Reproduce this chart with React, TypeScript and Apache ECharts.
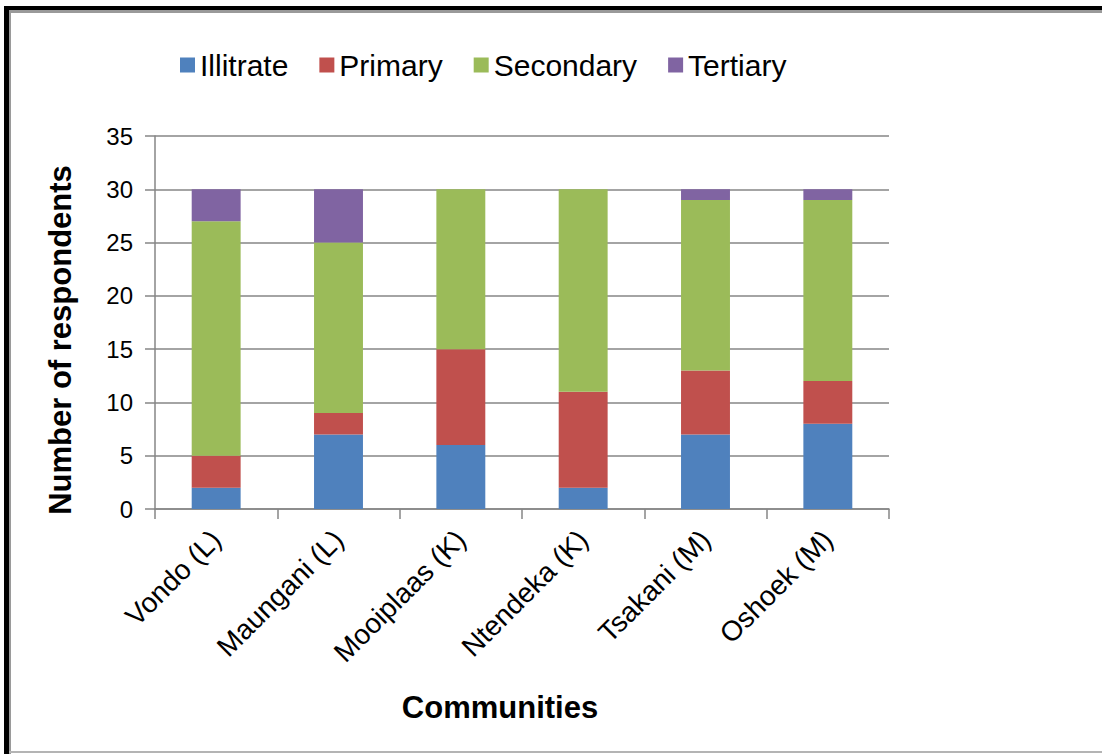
import React, { useEffect, useRef } from "react";
import * as echarts from "echarts";

const communities = ["Vondo (L)", "Maungani (L)", "Mooiplaas (K)", "Ntendeka (K)", "Tsakani (M)", "Oshoek (M)"];
const illiterate = [2, 7, 6, 2, 7, 8];
const primary = [3, 2, 9, 9, 6, 4];
const secondary = [22, 16, 15, 19, 16, 17];
const tertiary = [3, 5, 0, 0, 1, 1];
const seriesNames = ["Illitrate", "Primary", "Secondary", "Tertiary"];
const seriesColors = ["#4F81BD", "#C0504D", "#9BBB59", "#8064A2"];

const FONT = "'Liberation Sans', Arial, sans-serif";

export default function App() {
  const ref = useRef<HTMLDivElement>(null);

  useEffect(() => {
    document.body.style.margin = "0";
    const chart = echarts.init(ref.current!, undefined, { renderer: "svg" });
    const values = [illiterate, primary, secondary, tertiary];
    chart.setOption({
      animation: false,
      backgroundColor: "#ffffff",
      textStyle: { fontFamily: FONT },
      legend: {
        left: 175,
        top: 45,
        itemWidth: 15,
        itemHeight: 15,
        itemGap: 31,
        icon: "rect",
        textStyle: { fontSize: 30, color: "#000", fontFamily: FONT },
        data: seriesNames,
      },
      grid: { left: 155, right: 213, top: 136, bottom: 245 },
      xAxis: {
        type: "category",
        data: communities,
        axisLine: { lineStyle: { color: "#868686", width: 1.5 } },
        axisTick: { show: true, length: 10, lineStyle: { color: "#868686", width: 1.5 } },
        axisLabel: { rotate: 45, fontSize: 28, color: "#000", margin: 26, fontFamily: FONT },
      },
      yAxis: {
        type: "value",
        min: 0,
        max: 35,
        interval: 5,
        axisLine: { show: true, lineStyle: { color: "#868686", width: 1.5 } },
        axisTick: { show: true, length: 10, lineStyle: { color: "#868686", width: 1.5 } },
        axisLabel: { fontSize: 24, color: "#000", margin: 22, fontFamily: FONT },
        splitLine: { lineStyle: { color: "#868686", width: 1.5 } },
      },
      series: seriesNames.map((name, i) => ({
        name,
        type: "bar",
        stack: "total",
        barWidth: "40%",
        itemStyle: { color: seriesColors[i] },
        data: values[i],
      })),
      graphic: [
        // outer frame
        { type: "rect", shape: { x: 4, y: 6, width: 1098, height: 4 }, style: { fill: "#000" } },
        { type: "rect", shape: { x: 4, y: 6, width: 5, height: 748 }, style: { fill: "#000" } },
        { type: "rect", shape: { x: 9, y: 10, width: 1093, height: 3 }, style: { fill: "#9a9a9a" } },
        { type: "rect", shape: { x: 9, y: 10, width: 2, height: 744 }, style: { fill: "#9a9a9a" } },
        { type: "rect", shape: { x: 9, y: 751, width: 1093, height: 2 }, style: { fill: "#b4b4b4" } },
        {
          type: "text",
          x: 500,
          y: 707,
          style: {
            text: "Communities",
            fontSize: 31,
            fontWeight: "bold",
            fontFamily: FONT,
            fill: "#000",
            align: "center",
            verticalAlign: "middle",
          },
        },
        {
          type: "text",
          x: 60,
          y: 340,
          rotation: Math.PI / 2,
          style: {
            text: "Number of respondents",
            fontSize: 31,
            fontWeight: "bold",
            fontFamily: FONT,
            fill: "#000",
            align: "center",
            verticalAlign: "middle",
          },
        },
      ],
    });
    return () => chart.dispose();
  }, []);

  return <div ref={ref} style={{ position: "absolute", left: 0, top: 0, width: 1102, height: 754 }} />;
}
